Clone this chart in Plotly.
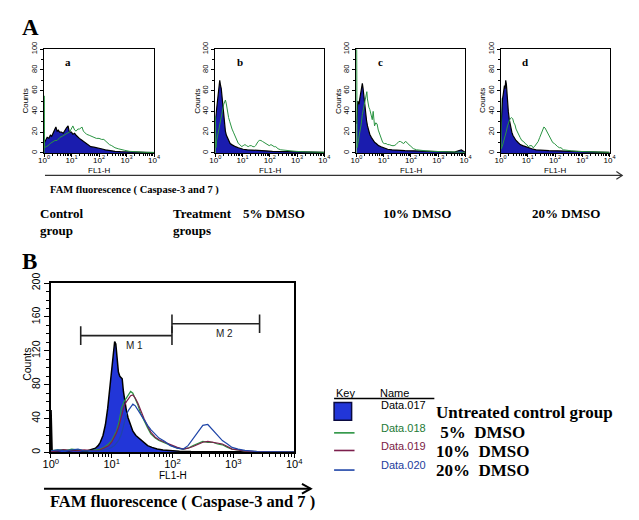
import math
import plotly.graph_objects as go

W, H = 639, 520
def fx(p): return p / W
def fy(p): return 1 - p / H

# ---------------- data ----------------
# Panel A-a : control (filled) and treatment (green)
a_ctrl_x = [1.0, 1.15, 1.3, 1.5, 1.7, 1.9, 2.2, 2.5, 2.7, 3.0, 3.3, 3.7, 4.3, 5.0, 5.7, 6.5, 7.5, 8.2, 9.0, 10, 11.2, 13, 14.7, 17, 19.3, 22, 25, 29, 33, 40, 50, 65, 86, 120, 170, 250, 380, 600, 1140, 2000, 4000, 10000]
a_ctrl_y = [9, 12, 15, 14, 17, 16, 20, 22, 25, 21, 22, 20, 20, 19, 22, 24, 26, 21, 20, 20, 18, 19, 17, 15, 14, 13, 12, 10, 9, 8, 6, 5.5, 5, 4, 3, 2, 1.5, 1.2, 1, 0.6, 0.5, 0.4]
a_trt_x = [1.01, 1.01, 1.05, 1.2, 1.4, 1.67, 2.0, 2.5, 3.0, 3.8, 4.6, 5.7, 7.0, 8.5, 10, 11.2, 13, 14.7, 17, 19.3, 22, 24, 27, 29, 35, 44, 55, 66, 80, 100, 125, 150, 175, 200, 240, 290, 380, 500, 650, 860, 1300, 1950, 3000, 5000, 10000]
a_trt_y = [0, 55, 5, 6, 7, 9, 10, 12, 12, 15, 16, 18, 19, 20, 23, 26, 22, 21, 23, 23, 24, 25, 21, 20, 18, 17, 16, 15, 14, 14, 13, 13, 11, 10, 8, 7, 5, 4, 3, 2.5, 1.5, 1, 1, 0.5, 0.5]

# Panel A-b
b_ctrl_x = [1.0, 1.1, 1.18, 1.25, 1.32, 1.39, 1.45, 1.55, 1.65, 1.78, 1.9, 2.04, 2.2, 2.34, 2.55, 2.83, 3.1, 3.5, 4.0, 4.6, 5.5, 7.0, 8.5, 10.5, 15, 24, 40, 70, 125, 250, 500, 1000, 1900, 4000, 10000]
b_ctrl_y = [31, 40, 47, 55, 60, 62, 70, 65, 62, 53, 45, 34, 27, 21, 17, 14, 11, 9, 8, 7, 6, 5, 4, 3.5, 3, 2.5, 2, 2, 1.5, 1.5, 1.2, 1, 1, 0.8, 0.5]
b_trt_x = [1.01, 1.01, 1.05, 1.12, 1.2, 1.35, 1.5, 1.64, 1.8, 2.04, 2.2, 2.34, 2.5, 2.7, 3.07, 3.4, 3.7, 4.1, 4.6, 5.1, 5.7, 6.3, 7.0, 8.0, 9.2, 10.5, 12.2, 14, 16, 18.5, 21, 24, 27.5, 30, 33, 37, 41, 47, 54, 62, 72, 82, 95, 110, 125, 145, 165, 200, 250, 350, 500, 900, 1900, 4000, 10000]
b_trt_y = [0, 35, 5, 12, 16, 25, 30, 34, 40, 47, 49, 51, 48, 42, 34, 30, 26, 23, 20, 17, 14, 12, 9, 8, 6, 7, 8, 7, 6, 7, 7, 6, 6, 7, 9, 11, 12, 12, 11, 10, 9, 8, 7, 8, 7, 6, 6, 4, 3, 2.5, 2, 1.5, 1, 0.8, 0.5]

# Panel A-c
c_ctrl_x = [1.0, 1.06, 1.12, 1.18, 1.25, 1.32, 1.4, 1.47, 1.55, 1.64, 1.73, 1.83, 1.95, 2.16, 2.35, 2.54, 2.8, 3.07, 3.5, 4.1, 4.7, 5.3, 6.5, 8, 10, 14, 20, 31.5, 60, 125, 300, 800, 1900, 4000, 7000, 10000]
c_ctrl_y = [28, 40, 50, 48, 47, 52, 56, 59, 62, 67, 63, 56, 47, 37, 31, 26, 21, 18, 15, 12, 10, 9, 7, 6, 5, 3.5, 3, 2.5, 2.2, 2, 1.5, 1.2, 1, 0.8, 3, 0.5]
c_trt_x = [1.01, 1.01, 1.05, 1.12, 1.2, 1.35, 1.5, 1.64, 1.8, 1.93, 2.05, 2.16, 2.28, 2.4, 2.52, 2.66, 2.85, 3.07, 3.3, 3.5, 3.8, 4.1, 4.35, 4.6, 5.1, 5.7, 6.3, 7.0, 8, 9.2, 10.5, 12.2, 14, 16, 20, 24, 28, 31.5, 36, 41, 47, 54, 62, 72, 82, 95, 110, 125, 160, 215, 350, 650, 1900, 4000, 10000]
c_trt_y = [0, 100, 5, 9, 13, 21, 28, 37, 42, 47, 50, 53, 55, 59, 52, 47, 44, 42, 38, 34, 32, 40, 30, 26, 29, 28, 22, 18, 14, 10, 9, 9, 8, 8, 7, 7, 8, 10, 11, 11, 10, 9, 11, 10, 8, 7, 5, 4, 3, 2.5, 2, 1.5, 1, 0.8, 0.5]

# Panel A-d
d_ctrl_x = [1.0, 1.06, 1.12, 1.18, 1.25, 1.32, 1.39, 1.47, 1.55, 1.64, 1.74, 1.83, 1.93, 2.1, 2.34, 2.6, 2.83, 3.2, 3.7, 4.4, 5.3, 6.5, 8, 10, 14, 20, 31.5, 60, 125, 300, 800, 1900, 4000, 10000]
d_ctrl_y = [15, 35, 47, 52, 56, 60, 65, 62, 70, 66, 53, 47, 40, 32, 25, 20, 17, 14, 12, 10, 8, 7, 6, 5, 4, 3, 2.5, 2.2, 2, 1.5, 1.2, 1, 0.8, 0.5]
d_trt_x = [1.01, 1.01, 1.05, 1.15, 1.35, 1.5, 1.64, 1.8, 2.04, 2.25, 2.54, 2.8, 3.07, 3.4, 3.7, 4.1, 4.6, 5.2, 6.0, 7.0, 8.0, 9.2, 10.5, 12, 14, 15.5, 17.5, 20.5, 24, 27.5, 30, 33, 36, 39, 43, 47, 52, 57, 64, 72, 82, 95, 110, 125, 145, 165, 200, 250, 400, 650, 1900, 4000, 10000]
d_trt_y = [0, 53, 4, 6, 12, 16, 21, 26, 31, 33, 34, 33, 29, 27, 23, 20, 17, 15, 12, 11, 9, 8, 6, 7, 7, 5, 6, 9, 11, 15, 18, 20, 23, 25, 24, 22, 20, 17, 15, 12, 10, 9, 7, 6, 5, 5, 3, 2.5, 2, 1.5, 1, 0.8, 0.5]

panel_letters = ["a", "b", "c", "d"]

# Panel B
B_ctrl_x = [1.01, 1.01, 1.05, 1.3, 1.6, 2.0, 2.5, 3.0, 3.5, 4.0, 4.6, 5.4, 6.0, 6.5, 7.2, 7.9, 8.6, 9.5, 10.1, 10.7, 11.2, 11.7, 12.3, 12.9, 13.6, 14.9, 15.6, 16.4, 17.4, 18.6, 20.3, 22.3, 25, 28.6, 33, 39, 46, 56, 70, 92, 130, 200, 400, 1000, 3000, 10000]
B_ctrl_y = [0, 50, 2, 2, 3, 2, 3, 2, 2, 2, 3, 5, 8, 12, 20, 33, 52, 83, 105, 124, 131, 128, 108, 95, 90, 87, 72, 60, 50, 41, 32, 25, 20, 16, 12, 8, 6, 4, 3, 2, 1.5, 1, 1, 0.8, 0.5, 0.5]
B_line_x = [1.0, 1.3, 1.7, 2.2, 2.8, 3.5, 4.5, 5.5, 6.5, 7.5, 8.9, 10, 11, 12, 13.2, 14.5, 16, 17.5, 19, 20.5, 22.3, 24.5, 27, 30, 34, 39, 44, 52, 60, 75, 92, 120, 150, 180, 218, 260, 315, 380, 455, 550, 660, 800, 950, 1200, 1550, 2500, 5000, 10000]
B_5pct_y = [2, 3, 2, 4, 3, 2, 2, 3, 4, 6, 10, 14, 19, 25, 36, 52, 60, 64, 68, 72, 70, 64, 56, 46, 37, 29, 22, 17, 14, 11, 8, 5, 4, 5, 8, 10, 13, 12, 12, 10, 9, 6, 4, 3, 1.5, 1, 0.5, 0.5]
B_10pct_y = [1, 2, 3, 2, 2, 3, 2, 2, 3, 5, 8, 12, 17, 23, 31, 44, 55, 60, 64, 67, 68, 64, 58, 49, 40, 31, 24, 18, 15, 12, 9, 6, 4, 5, 7, 9, 12, 13, 12, 11, 10, 7, 4, 3, 1.5, 1, 0.5, 0.5]
B_20pct_y = [2, 3, 2, 3, 4, 2, 2, 2, 2, 3, 4, 6, 8, 11, 15, 22, 36, 45, 50, 54, 57, 55, 50, 45, 38, 32, 27, 22, 17, 13, 8, 5, 4, 8, 16, 24, 32, 33, 27, 21, 14, 10, 6, 4, 2.5, 1, 0.5, 0.5]

gate_names = ["M1", "M2"]
gate_low = [3.1, 98]
gate_high = [98, 2700]
gate_level = [138, 152]

legend_keys = ["Data.017", "Data.018", "Data.019", "Data.020"]
legend_groups = ["Untreated control group", " 5%  DMSO", "10%  DMSO", "20%  DMSO"]

group_labels_A = ["Control<br>group", "Treatment<br>groups", "5% DMSO", "10% DMSO", "20% DMSO"]

x_tickvals = [1, 10, 100, 1000, 10000]
x_ticktext = ["10<sup>0</sup>", "10<sup>1</sup>", "10<sup>2</sup>", "10<sup>3</sup>", "10<sup>4</sup>"]

# ---------------- styling ----------------
FILL_A = "#1a1cae"
FILL_B = "#2236d8"
GREEN = "#2a9442"
MAROON = "#7c1f4c"
BLUE = "#1f45a8"
SANS = "Liberation Sans, Arial, sans-serif"
SERIF = "Liberation Serif, Times New Roman, serif"

minor_vals = [m * 10 ** k for k in range(4) for m in range(2, 10)]

fig = go.Figure()
annotations = []
shapes = []
layout_axes = {}

def ann(text, x, y, size, family=SANS, color="black", xanchor="center", ref="paper", **kw):
    d = dict(text=text, showarrow=False, xanchor=xanchor, yanchor="middle",
             font=dict(family=family, size=size, color=color))
    if ref == "paper":
        d.update(x=fx(x), y=fy(y), xref="paper", yref="paper")
    else:
        d.update(x=x, y=y, xref=ref[0], yref=ref[1])
    d.update(kw)
    annotations.append(d)

def pline(x0, y0, x1, y1, color, width):
    shapes.append(dict(type="line", xref="paper", yref="paper", x0=fx(x0), x1=fx(x1),
                       y0=fy(y0), y1=fy(y1), line=dict(color=color, width=width)))

def xax(l, r, anchor, fs, tl, ml, lw, so):
    return dict(domain=[fx(l), fx(r)], anchor=anchor, type="log", range=[0, 4],
                tickmode="array", tickvals=x_tickvals, ticktext=x_ticktext,
                ticks="outside", ticklen=tl, tickwidth=1, tickcolor="black",
                ticklabelstandoff=so,
                minor=dict(tickmode="array", tickvals=minor_vals, ticks="outside",
                           ticklen=ml, tickwidth=1, tickcolor="black"),
                showline=True, linecolor="black", linewidth=lw, mirror=True,
                showgrid=False, zeroline=False,
                tickfont=dict(family=SANS, size=fs, color="black"))

def yax(t, b, anchor, fs, rng, dt, mdt, tl, ml, lw):
    return dict(domain=[fy(b), fy(t)], anchor=anchor, range=rng,
                tickmode="linear", tick0=0, dtick=dt, tickangle=-90,
                ticks="outside", ticklen=tl, tickwidth=1, tickcolor="black",
                minor=dict(tickmode="linear", tick0=0, dtick=mdt, ticks="outside",
                           ticklen=ml, tickwidth=1, tickcolor="black"),
                showline=True, linecolor="black", linewidth=lw, mirror=True,
                showgrid=False, zeroline=False,
                tickfont=dict(family=SANS, size=fs, color="black"))

# ---------------- panel A ----------------
panels_px = [(37, 150), (213, 325), (358, 470), (506, 618)]
A_top, A_bot = 40, 146
ctrl = [(a_ctrl_x, a_ctrl_y), (b_ctrl_x, b_ctrl_y), (c_ctrl_x, c_ctrl_y), (d_ctrl_x, d_ctrl_y)]
trt = [(a_trt_x, a_trt_y), (b_trt_x, b_trt_y), (c_trt_x, c_trt_y), (d_trt_x, d_trt_y)]

for i, (l, r) in enumerate(panels_px):
    n = i + 1
    xs = "x" if n == 1 else f"x{n}"
    ys = "y" if n == 1 else f"y{n}"
    layout_axes["xaxis" if n == 1 else f"xaxis{n}"] = xax(l, r, ys, 8, 3, 2, 1, -4)
    layout_axes["yaxis" if n == 1 else f"yaxis{n}"] = yax(A_top, A_bot, xs, 7.5, [0, 100], 20, 10, 3, 2, 1)
    cx, cy = ctrl[i]
    tx, ty = trt[i]
    fig.add_trace(go.Scatter(x=cx, y=cy, xaxis=xs, yaxis=ys, mode="lines",
                             fill="tozeroy", fillcolor=FILL_A,
                             line=dict(color="black", width=1.2), showlegend=False))
    fig.add_trace(go.Scatter(x=tx, y=ty, xaxis=xs, yaxis=ys, mode="lines",
                             line=dict(color=GREEN, width=1), showlegend=False))
    ann(f"<b>{panel_letters[i]}</b>", l + 25, 53, 11, SERIF)
    ann("Counts", l - 19, 93, 8, textangle=-90)
    ann("FL1-H", (l + r) / 2, 164, 8)

# ---------------- panel B ----------------
BL, BR, BT, BB = 44, 294, 279, 452
layout_axes["xaxis5"] = xax(BL, BR, "y5", 11, 4, 3, 1.5, -3)
layout_axes["yaxis5"] = yax(BT, BB, "x5", 10.5, [0, 200], 40, 10, 5, 3, 1.5)

fig.add_trace(go.Scatter(x=B_ctrl_x, y=B_ctrl_y, xaxis="x5", yaxis="y5", mode="lines",
                         fill="tozeroy", fillcolor=FILL_B,
                         line=dict(color="black", width=1.5), showlegend=False))
for yv, col in [(B_5pct_y, GREEN), (B_10pct_y, MAROON), (B_20pct_y, BLUE)]:
    fig.add_trace(go.Scatter(x=B_line_x, y=yv, xaxis="x5", yaxis="y5", mode="lines",
                             line=dict(color=col, width=1.2), showlegend=False))

ann("Counts", BL - 24, 362, 10.5, textangle=-90)
ann("FL1-H", (BL + BR) / 2, 476, 10)

# gates M1, M2 (shapes take data values on this log axis; annotations take log10 values)
for name, lo, hi, lev in zip(gate_names, gate_low, gate_high, gate_level):
    shapes.append(dict(type="line", xref="x5", yref="y5", x0=lo, x1=hi, y0=lev, y1=lev,
                       line=dict(color="#222", width=1.6)))
    for xe in (lo, hi):
        shapes.append(dict(type="line", xref="x5", yref="y5", x0=xe, x1=xe, y0=lev - 11, y1=lev + 11,
                           line=dict(color="#222", width=1.6)))
    ann(" ".join(name), (math.log10(lo) + math.log10(hi)) / 2 + 0.14, lev - 12, 10,
        color="#222", ref=("x5", "y5"))

# ---------------- captions ----------------
ann("<b>A</b>", 12, 18, 23, SERIF, xanchor="left")
ann("<b>B</b>", 12, 257, 23, SERIF, xanchor="left")

pline(38, 169, 631, 169, "#333", 1.2)
shapes.append(dict(type="path", xref="paper", yref="paper",
                   path=f"M {fx(625)} {fy(165)} L {fx(631)} {fy(169)} L {fx(625)} {fy(173)}",
                   line=dict(color="#333", width=1.2)))
ann("<b>FAM fluorescence ( Caspase-3 and 7 )</b>", 41, 184, 10.5, SERIF, xanchor="left")
group_pos = [(31, 217), (167, 217), (239, 208), (383, 208), (536, 208)]
for txt, (gx, gy) in zip(group_labels_A, group_pos):
    ann(f"<b>{txt}</b>", gx, gy, 13, SERIF, xanchor="left", align="left")

pline(37, 489, 311, 489, "black", 2)
shapes.append(dict(type="path", xref="paper", yref="paper",
                   path=f"M {fx(302)} {fy(484)} L {fx(311)} {fy(489)} L {fx(302)} {fy(494)}",
                   line=dict(color="black", width=2)))
ann("<b>FAM fluorescence ( Caspase-3 and 7 )</b>", 41, 502, 16.5, SERIF, xanchor="left")

# ---------------- key block ----------------
ann("Key", 335, 391, 11, xanchor="left")
ann("Name", 380, 391, 11, xanchor="left")
pline(335, 397, 438, 397, "black", 1.5)
shapes.append(dict(type="rect", xref="paper", yref="paper", x0=fx(335), x1=fx(353), y0=fy(419), y1=fy(401),
                   fillcolor=FILL_B, line=dict(color="#0a0a40", width=1.5)))
key_cols = [None, GREEN, MAROON, BLUE]
name_cols = ["black", "#1d7a35", "#7a1a44", "#1c3c9c"]
key_y = [404, 427, 445, 465]
grp_y = [411, 432, 451, 470]
line_y = [None, 432, 450, 470]
for k in range(4):
    ann(legend_keys[k], 381, key_y[k], 11, color=name_cols[k], xanchor="left")
    ann(f"<b>{legend_groups[k]}</b>", 438, grp_y[k], 17, SERIF, xanchor="left")
    if key_cols[k]:
        pline(335, line_y[k], 356, line_y[k], key_cols[k], 1.6)

fig.update_layout(width=W, height=H, margin=dict(l=0, r=0, t=0, b=0),
                  paper_bgcolor="white", plot_bgcolor="white", showlegend=False,
                  annotations=annotations, shapes=shapes, **layout_axes)

fig.write_html("out.html", config={"displayModeBar": False},
               post_script="document.body.style.margin='0';document.body.style.padding='0';")
